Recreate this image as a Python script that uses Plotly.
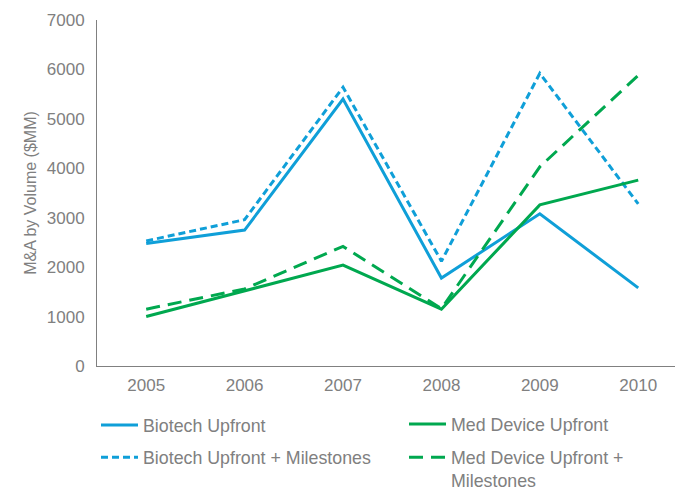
import plotly.graph_objects as go

years = ["2005", "2006", "2007", "2008", "2009", "2010"]
biotech_upfront = [2480, 2750, 5400, 1780, 3080, 1580]
biotech_milestones = [2530, 2960, 5640, 2120, 5920, 3280]
med_upfront = [1000, 1520, 2040, 1150, 3260, 3760]
med_milestones = [1150, 1560, 2420, 1160, 4030, 5880]
y_ticks = [0, 1000, 2000, 3000, 4000, 5000, 6000, 7000]

BLUE = "#0f9fd8"
GREEN = "#00a84f"
GRAY = "#808080"
FONT = "Liberation Sans, Arial, sans-serif"

fig = go.Figure()
fig.add_trace(go.Scatter(x=years, y=biotech_upfront, mode="lines", name="Biotech Upfront",
                         line=dict(color=BLUE, width=3), legend="legend", legendgroup="a"))
fig.add_trace(go.Scatter(x=years, y=biotech_milestones, mode="lines", name="Biotech Upfront + Milestones",
                         line=dict(color=BLUE, width=3, dash="7px,4px"), legend="legend", legendgroup="b"))
fig.add_trace(go.Scatter(x=years, y=med_upfront, mode="lines", name="Med Device Upfront",
                         line=dict(color=GREEN, width=3), legend="legend2", legendgroup="c"))
fig.add_trace(go.Scatter(x=years, y=med_milestones, mode="lines", name="Med Device Upfront +<br>Milestones",
                         line=dict(color=GREEN, width=3, dash="14px,8px"), legend="legend2", legendgroup="d"))

# page body has an 8px margin, so the figure is sized 8px smaller on each axis
fig.update_layout(
    width=675, height=483,
    margin=dict(l=89, r=0, t=12, b=125),
    paper_bgcolor="white", plot_bgcolor="white",
    font=dict(family=FONT, size=17, color=GRAY),
    xaxis=dict(type="category", range=[-0.5, 5.455], showgrid=False, zeroline=False,
               showline=True, linecolor=GRAY, linewidth=1, automargin=False,
               ticks="outside", ticklen=4, tickcolor="rgba(0,0,0,0)",
               tickfont=dict(size=17, color=GRAY)),
    yaxis=dict(range=[0, 7000], tickvals=y_ticks, showgrid=False, zeroline=False,
               showline=True, linecolor=GRAY, linewidth=1, automargin=False,
               ticks="outside", ticklen=8, tickcolor="rgba(0,0,0,0)",
               tickfont=dict(size=17, color=GRAY),
               title=dict(text="M&A by Volume ($MM)", standoff=6, font=dict(size=16, color=GRAY))),
    legend=dict(xref="paper", yref="container", x=-0.0017, y=0.1739,
                xanchor="left", yanchor="top", orientation="v", tracegroupgap=6,
                itemwidth=37, valign="top", font=dict(size=17.8, color=GRAY),
                bgcolor="rgba(0,0,0,0)"),
    legend2=dict(xref="paper", yref="container", x=0.5239, y=0.1760,
                 xanchor="left", yanchor="top", orientation="v", tracegroupgap=7,
                 itemwidth=37, valign="top", font=dict(size=17.8, color=GRAY),
                 bgcolor="rgba(0,0,0,0)"),
)

fig.write_html("out.html")
